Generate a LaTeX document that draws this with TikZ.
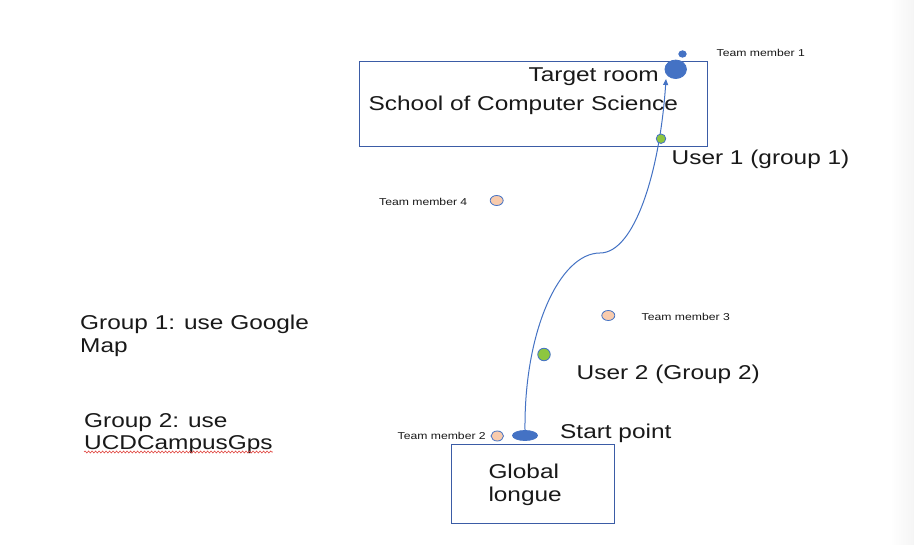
\documentclass[tikz,border=0pt]{standalone}
\usepackage{fontspec}
\setmainfont{Liberation Sans}[FakeStretch=1.22]
\usetikzlibrary{arrows.meta,decorations.pathmorphing,shapes.geometric}
\definecolor{ofblue}{HTML}{4472C4}
\definecolor{boxblue}{HTML}{3B5CA6}
\definecolor{peach}{HTML}{F8CBAD}
\definecolor{ofgreen}{HTML}{8DC63F}
\definecolor{wavyred}{HTML}{E0403A}
\begin{document}
\begin{tikzpicture}[x=1pt,y=-1pt,
  bigtxt/.style={font=\fontsize{20}{23.4}\selectfont, inner sep=0pt, text=black!90},
  smalltxt/.style={font=\fontsize{10}{12}\selectfont, inner sep=0pt, text=black!90},
  roombox/.style={draw=boxblue, line width=1pt},
  memberdot/.style={ellipse, draw=ofblue, fill=peach, line width=0.8pt, inner sep=0pt, minimum width=13pt, minimum height=10pt},
  userdot/.style={circle, draw=ofblue, fill=ofgreen, line width=0.8pt, inner sep=0pt},
  bluedot/.style={ellipse, draw=ofblue, fill=ofblue, line width=0.8pt, inner sep=0pt},
  route/.style={draw=ofblue, line width=1pt}
]
\useasboundingbox (0,0) rectangle (914,545);
\fill[white] (0,0) rectangle (914,545);
\shade[left color=white, right color=black!4] (890,0) rectangle (914,545);

% rooms
\node[roombox, minimum width=348pt, minimum height=85pt, anchor=north west] (school) at (358.5,60.7) {};
\node[roombox, minimum width=163.5pt, minimum height=78.5pt, anchor=north west] (lounge) at (450.7,444) {};

% labels in rooms
\node[bigtxt, anchor=base east] (targetlbl) at (659,82) {Target room};
\node[bigtxt, anchor=base west] (schoollbl) at (368.5,111) {School of Computer Science};
\node[bigtxt, anchor=base west] (globallbl) at (488.3,478.3) {Global};
\node[bigtxt, anchor=base west] (longuelbl) at (488.3,501.7) {longue};

% target / start
\node[bluedot, minimum width=21.5pt, minimum height=18.5pt] (target) at (675.7,69.3) {};
\node[bluedot, minimum width=25pt, minimum height=10pt] (start) at (525,435.5) {};
\node[bigtxt, anchor=base west] (startlbl) at (560,438.3) {Start point};

% route
\coordinate (bend) at (600,253);
\coordinate (tip) at (666,79);
\draw[route, -{Triangle[length=6pt,width=5pt]}] (start.north) .. controls (524,330) and (560,253) .. (bend) .. controls (635,253) and (660,170) .. (tip);

% users
\node[userdot, minimum size=9.5pt] (user1) at (661,138.7) {};
\node[bigtxt, anchor=base west] (user1lbl) at (671.5,165) {User 1 (group 1)};
\node[userdot, minimum size=12.5pt] (user2) at (544,354.5) {};
\node[bigtxt, anchor=base west] (user2lbl) at (576.5,379.3) {User 2 (Group 2)};

% team members
\node[bluedot, minimum width=7.5pt, minimum height=6.5pt] (tm1) at (682.5,54) {};
\node[smalltxt, anchor=base west] (tm1lbl) at (716.5,57) {Team member 1};
\node[memberdot] (tm4) at (496.7,200.5) {};
\node[smalltxt, anchor=base east] (tm4lbl) at (467.5,206) {Team member 4};
\node[memberdot] (tm3) at (608.3,315.5) {};
\node[smalltxt, anchor=base west] (tm3lbl) at (641.5,320.5) {Team member 3};
\node[memberdot, minimum width=12.5pt] (tm2) at (497.3,436) {};
\node[smalltxt, anchor=base east] (tm2lbl) at (486,439.5) {Team member 2};

% legend
\node[bigtxt, anchor=base west] (g1a) at (80,329.3) {Group 1: use Google};
\node[bigtxt, anchor=base west] (g1b) at (80,352.7) {Map};
\node[bigtxt, anchor=base west] (g2a) at (84,427.7) {Group 2: use};
\node[bigtxt, anchor=base west] (g2b) at (84,449.5) {UCDCampusGps};
\coordinate (wl) at (g2b.base west);
\coordinate (wr) at (g2b.base east);
\draw[wavyred, line width=0.6pt, decorate, decoration={snake, amplitude=1pt, segment length=3.5pt}] ([yshift=-2.5pt]wl) -- ([yshift=-2.5pt]wr);
\end{tikzpicture}
\end{document}
